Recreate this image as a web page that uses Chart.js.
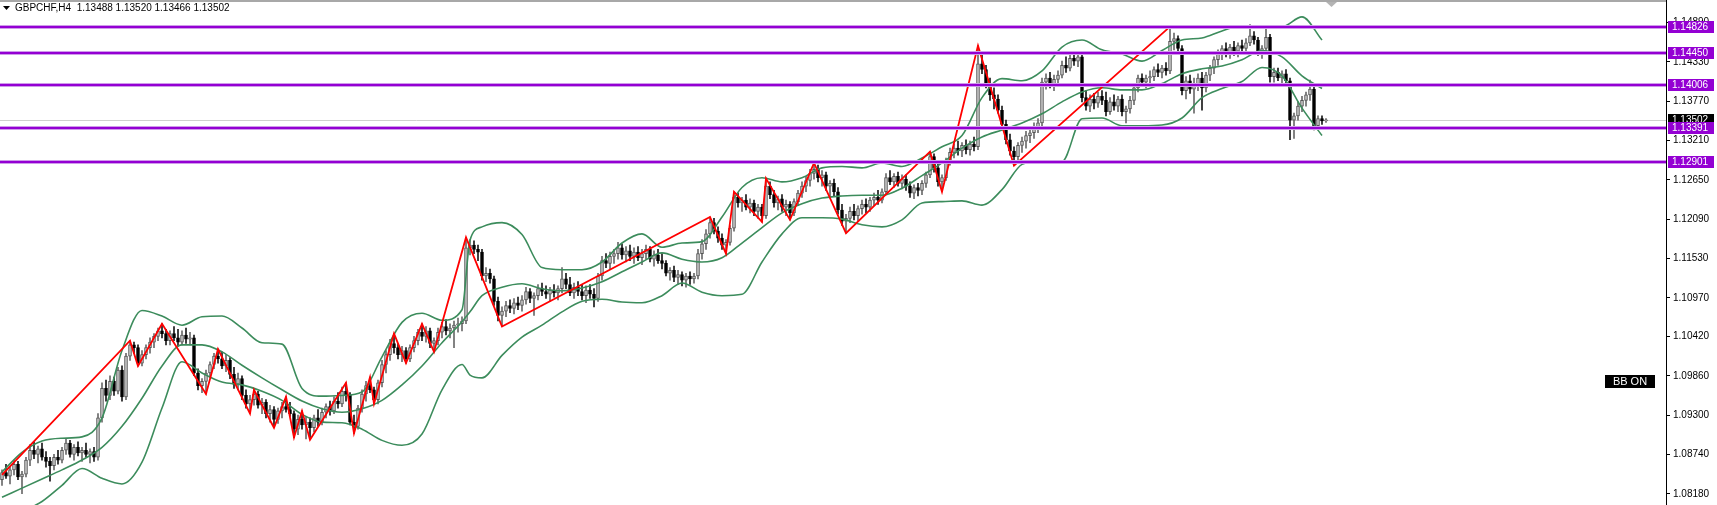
<!DOCTYPE html>
<html>
<head>
<meta charset="utf-8">
<title>GBPCHF,H4</title>
<script src="https://cdn.jsdelivr.net/npm/chart.js@4.4.1/dist/chart.umd.min.js"></script>
<style>
  html, body { margin: 0; padding: 0; background: #fff; }
  #wrap { width: 1717px; height: 505px; }
</style>
</head>
<body>
<div id="wrap"><canvas id="grafico" width="1717" height="505"></canvas></div>
<script>
// cabeçalho e eixo
const symbolTitle = 'GBPCHF,H4  1.13488 1.13520 1.13466 1.13502';
const priceTicks = [1.08180, 1.08740, 1.09300, 1.09860, 1.10420, 1.10970, 1.11530,
                    1.12090, 1.12650, 1.13210, 1.13770, 1.14330, 1.14890];
const levels = [1.14826, 1.14450, 1.14006, 1.13391, 1.12901];
const lastPrice = 1.13502;

// velas H4: [open, high, low, close]
const ohlc = [
  [1.0838,1.0852,1.0830,1.0848],[1.0848,1.0860,1.0840,1.0843],[1.0843,1.0857,1.0832,1.0852],[1.0852,1.0866,1.0845,1.0860],
  [1.0860,1.0864,1.0838,1.0842],[1.0842,1.0850,1.0818,1.0846],[1.0846,1.0870,1.0842,1.0866],[1.0866,1.0888,1.0858,1.0880],
  [1.0880,1.0892,1.0868,1.0874],[1.0874,1.0886,1.0862,1.0882],[1.0882,1.0890,1.0866,1.0870],[1.0870,1.0878,1.0856,1.0864],
  [1.0864,1.0870,1.0836,1.0858],[1.0858,1.0874,1.0852,1.0870],[1.0870,1.0880,1.0860,1.0866],[1.0866,1.0884,1.0862,1.0880],
  [1.0880,1.0896,1.0874,1.0890],[1.0890,1.0894,1.0870,1.0874],[1.0874,1.0888,1.0866,1.0884],[1.0884,1.0892,1.0872,1.0876],
  [1.0876,1.0884,1.0864,1.0880],[1.0880,1.0890,1.0870,1.0874],[1.0874,1.0882,1.0862,1.0878],[1.0878,1.0884,1.0864,1.0870],
  [1.0870,1.0932,1.0866,1.0926],[1.0926,1.0976,1.0920,1.0968],[1.0968,1.0980,1.0950,1.0958],[1.0958,1.0986,1.0952,1.0978],
  [1.0978,1.0984,1.0958,1.0964],[1.0964,1.0998,1.0960,1.0994],[1.0994,1.1000,1.0950,1.0956],[1.0956,1.1018,1.0952,1.1014],
  [1.1014,1.1036,1.1008,1.1030],[1.1030,1.1034,1.1018,1.1026],[1.1026,1.1030,1.1000,1.1004],[1.1004,1.1022,1.1000,1.1016],
  [1.1016,1.1030,1.1010,1.1026],[1.1026,1.1040,1.1018,1.1034],[1.1034,1.1046,1.1026,1.1042],[1.1042,1.1054,1.1036,1.1050],
  [1.1050,1.1060,1.1040,1.1046],[1.1046,1.1052,1.1030,1.1036],[1.1036,1.1050,1.1030,1.1046],[1.1046,1.1056,1.1036,1.1040],
  [1.1040,1.1052,1.1028,1.1034],[1.1034,1.1050,1.1030,1.1044],[1.1044,1.1054,1.1032,1.1038],[1.1038,1.1048,1.1030,1.1040],
  [1.1040,1.1044,1.0986,1.0990],[1.0990,1.0996,1.0966,1.0972],[1.0972,1.0982,1.0962,1.0978],[1.0978,1.0994,1.0960,1.0990],
  [1.0990,1.1006,1.0984,1.1002],[1.1002,1.1018,1.0996,1.1014],[1.1014,1.1024,1.1004,1.1010],[1.1010,1.1020,1.0996,1.1000],
  [1.1000,1.1016,1.0992,1.1008],[1.1008,1.1012,1.0982,1.0988],[1.0988,1.0998,1.0968,1.0974],[1.0974,1.0990,1.0966,1.0982],
  [1.0982,1.0986,1.0952,1.0958],[1.0958,1.0966,1.0940,1.0946],[1.0946,1.0958,1.0932,1.0952],[1.0952,1.0966,1.0944,1.0960],
  [1.0960,1.0964,1.0940,1.0944],[1.0944,1.0954,1.0932,1.0948],[1.0948,1.0952,1.0926,1.0932],[1.0932,1.0944,1.0920,1.0938],
  [1.0938,1.0942,1.0912,1.0924],[1.0924,1.0940,1.0918,1.0936],[1.0936,1.0948,1.0926,1.0942],[1.0942,1.0956,1.0934,1.0938],
  [1.0938,1.0948,1.0928,1.0932],[1.0932,1.0936,1.0898,1.0910],[1.0910,1.0930,1.0902,1.0924],[1.0924,1.0936,1.0910,1.0916],
  [1.0916,1.0928,1.0896,1.0920],[1.0920,1.0926,1.0895,1.0912],[1.0912,1.0930,1.0906,1.0926],[1.0926,1.0938,1.0914,1.0920],
  [1.0920,1.0940,1.0916,1.0934],[1.0934,1.0946,1.0926,1.0942],[1.0942,1.0950,1.0930,1.0936],[1.0936,1.0956,1.0932,1.0950],
  [1.0950,1.0962,1.0940,1.0946],[1.0946,1.0970,1.0942,1.0964],[1.0964,1.0976,1.0950,1.0958],[1.0958,1.0962,1.0916,1.0920],
  [1.0920,1.0930,1.0904,1.0914],[1.0914,1.0944,1.0910,1.0940],[1.0940,1.0966,1.0934,1.0960],[1.0960,1.0978,1.0950,1.0972],
  [1.0972,1.0984,1.0962,1.0966],[1.0966,1.0970,1.0946,1.0952],[1.0952,1.0980,1.0946,1.0976],[1.0976,1.1008,1.0970,1.1002],
  [1.1002,1.1022,1.0990,1.1016],[1.1016,1.1038,1.1008,1.1032],[1.1032,1.1046,1.1018,1.1026],[1.1026,1.1032,1.1010,1.1016],
  [1.1016,1.1028,1.1006,1.1022],[1.1022,1.1026,1.1004,1.1010],[1.1010,1.1030,1.1006,1.1026],[1.1026,1.1042,1.1020,1.1036],
  [1.1036,1.1052,1.1030,1.1048],[1.1048,1.1060,1.1036,1.1042],[1.1042,1.1056,1.1034,1.1050],[1.1050,1.1054,1.1026,1.1032],
  [1.1032,1.1040,1.1020,1.1036],[1.1036,1.1054,1.1030,1.1048],[1.1048,1.1062,1.1040,1.1056],[1.1056,1.1066,1.1044,1.1050],
  [1.1050,1.1060,1.1040,1.1054],[1.1054,1.1064,1.1026,1.1058],[1.1058,1.1068,1.1048,1.1060],[1.1060,1.1070,1.1050,1.1064],
  [1.1064,1.1183,1.1060,1.1168],[1.1168,1.1180,1.1158,1.1172],[1.1172,1.1178,1.1160,1.1166],[1.1166,1.1172,1.1150,1.1162],
  [1.1162,1.1166,1.1122,1.1128],[1.1128,1.1140,1.1120,1.1132],[1.1132,1.1138,1.1118,1.1124],[1.1124,1.1128,1.1086,1.1092],
  [1.1092,1.1098,1.1064,1.1072],[1.1072,1.1084,1.1056,1.1078],[1.1078,1.1092,1.1070,1.1086],[1.1086,1.1094,1.1076,1.1082],
  [1.1082,1.1096,1.1074,1.1090],[1.1090,1.1098,1.1080,1.1086],[1.1086,1.1100,1.1078,1.1094],[1.1094,1.1112,1.1088,1.1106],
  [1.1106,1.1110,1.1090,1.1096],[1.1096,1.1104,1.1072,1.1100],[1.1100,1.1116,1.1094,1.1110],[1.1110,1.1118,1.1100,1.1106],
  [1.1106,1.1114,1.1096,1.1102],[1.1102,1.1112,1.1092,1.1108],[1.1108,1.1116,1.1098,1.1104],[1.1104,1.1114,1.1094,1.1110],
  [1.1110,1.1140,1.1104,1.1124],[1.1124,1.1132,1.1110,1.1116],[1.1116,1.1126,1.1100,1.1104],[1.1104,1.1118,1.1096,1.1112],
  [1.1112,1.1120,1.1100,1.1106],[1.1106,1.1116,1.1094,1.1100],[1.1100,1.1114,1.1090,1.1108],[1.1108,1.1116,1.1096,1.1102],
  [1.1102,1.1110,1.1084,1.1096],[1.1096,1.1132,1.1092,1.1128],[1.1128,1.1156,1.1122,1.1150],[1.1150,1.1160,1.1140,1.1146],
  [1.1146,1.1162,1.1138,1.1156],[1.1156,1.1166,1.1146,1.1160],[1.1160,1.1176,1.1152,1.1168],[1.1168,1.1174,1.1152,1.1158],
  [1.1158,1.1170,1.1148,1.1164],[1.1164,1.1172,1.1150,1.1156],[1.1156,1.1168,1.1146,1.1162],[1.1162,1.1170,1.1150,1.1154],
  [1.1154,1.1166,1.1144,1.1160],[1.1160,1.1172,1.1152,1.1166],[1.1166,1.1170,1.1148,1.1152],[1.1152,1.1164,1.1142,1.1158],
  [1.1158,1.1166,1.1146,1.1150],[1.1150,1.1160,1.1138,1.1146],[1.1146,1.1150,1.1128,1.1132],[1.1132,1.1140,1.1122,1.1136],
  [1.1136,1.1142,1.1120,1.1126],[1.1126,1.1136,1.1116,1.1130],[1.1130,1.1134,1.1114,1.1122],[1.1122,1.1132,1.1112,1.1128],
  [1.1128,1.1134,1.1116,1.1124],[1.1124,1.1132,1.1118,1.1128],[1.1128,1.1166,1.1124,1.1160],[1.1160,1.1180,1.1152,1.1174],
  [1.1174,1.1194,1.1166,1.1188],[1.1188,1.1212,1.1182,1.1204],[1.1204,1.1210,1.1188,1.1192],[1.1192,1.1198,1.1176,1.1182],
  [1.1182,1.1188,1.1166,1.1172],[1.1172,1.1180,1.1160,1.1176],[1.1176,1.1200,1.1172,1.1196],[1.1196,1.1248,1.1192,1.1240],
  [1.1240,1.1246,1.1226,1.1232],[1.1232,1.1240,1.1220,1.1236],[1.1236,1.1244,1.1222,1.1226],[1.1226,1.1238,1.1218,1.1232],
  [1.1232,1.1236,1.1214,1.1220],[1.1220,1.1230,1.1210,1.1226],[1.1226,1.1230,1.1205,1.1214],[1.1214,1.1267,1.1210,1.1256],
  [1.1256,1.1262,1.1238,1.1244],[1.1244,1.1250,1.1226,1.1232],[1.1232,1.1242,1.1222,1.1238],[1.1238,1.1244,1.1220,1.1226],
  [1.1226,1.1236,1.1214,1.1230],[1.1230,1.1234,1.1208,1.1218],[1.1218,1.1238,1.1214,1.1234],[1.1234,1.1250,1.1228,1.1246],
  [1.1246,1.1262,1.1240,1.1256],[1.1256,1.1270,1.1248,1.1264],[1.1264,1.1280,1.1256,1.1274],[1.1274,1.1289,1.1266,1.1280],
  [1.1280,1.1286,1.1262,1.1268],[1.1268,1.1278,1.1256,1.1272],[1.1272,1.1276,1.1250,1.1256],[1.1256,1.1264,1.1240,1.1260],
  [1.1260,1.1266,1.1242,1.1248],[1.1248,1.1254,1.1216,1.1222],[1.1222,1.1230,1.1200,1.1206],[1.1206,1.1216,1.1189,1.1210],
  [1.1210,1.1226,1.1204,1.1220],[1.1220,1.1230,1.1208,1.1214],[1.1214,1.1228,1.1206,1.1224],[1.1224,1.1236,1.1216,1.1230],
  [1.1230,1.1238,1.1218,1.1226],[1.1226,1.1240,1.1220,1.1236],[1.1236,1.1246,1.1228,1.1240],[1.1240,1.1250,1.1230,1.1236],
  [1.1236,1.1252,1.1232,1.1248],[1.1248,1.1274,1.1244,1.1268],[1.1268,1.1278,1.1258,1.1262],[1.1262,1.1274,1.1254,1.1270],
  [1.1270,1.1276,1.1256,1.1260],[1.1260,1.1272,1.1252,1.1266],[1.1266,1.1272,1.1250,1.1256],[1.1256,1.1262,1.1240,1.1246],
  [1.1246,1.1258,1.1238,1.1254],[1.1254,1.1260,1.1242,1.1250],[1.1250,1.1264,1.1244,1.1260],[1.1260,1.1276,1.1254,1.1272],
  [1.1272,1.1305,1.1268,1.1298],[1.1298,1.1302,1.1276,1.1282],[1.1282,1.1288,1.1256,1.1262],[1.1262,1.1272,1.1248,1.1268],
  [1.1268,1.1296,1.1264,1.1292],[1.1292,1.1310,1.1286,1.1304],[1.1304,1.1316,1.1296,1.1310],[1.1310,1.1320,1.1300,1.1306],
  [1.1306,1.1318,1.1298,1.1314],[1.1314,1.1322,1.1302,1.1308],[1.1308,1.1320,1.1300,1.1316],[1.1316,1.1326,1.1306,1.1312],
  [1.1312,1.1456,1.1308,1.1430],[1.1430,1.1446,1.1416,1.1422],[1.1422,1.1428,1.1396,1.1402],[1.1402,1.1410,1.1378,1.1386],
  [1.1386,1.1396,1.1366,1.1380],[1.1380,1.1386,1.1360,1.1364],[1.1364,1.1370,1.1338,1.1344],[1.1344,1.1350,1.1316,1.1322],
  [1.1322,1.1330,1.1300,1.1306],[1.1306,1.1312,1.1285,1.1298],[1.1298,1.1318,1.1292,1.1314],[1.1314,1.1326,1.1304,1.1320],
  [1.1320,1.1334,1.1310,1.1328],[1.1328,1.1338,1.1318,1.1332],[1.1332,1.1346,1.1324,1.1340],[1.1340,1.1352,1.1332,1.1346],
  [1.1346,1.1410,1.1342,1.1404],[1.1404,1.1416,1.1394,1.1410],[1.1410,1.1418,1.1396,1.1402],[1.1402,1.1414,1.1392,1.1408],
  [1.1408,1.1420,1.1398,1.1414],[1.1414,1.1434,1.1410,1.1428],[1.1428,1.1440,1.1418,1.1424],[1.1424,1.1444,1.1420,1.1438],
  [1.1438,1.1448,1.1428,1.1434],[1.1434,1.1446,1.1426,1.1440],[1.1440,1.1444,1.1376,1.1382],[1.1382,1.1392,1.1364,1.1370],
  [1.1370,1.1386,1.1362,1.1380],[1.1380,1.1388,1.1366,1.1374],[1.1374,1.1390,1.1368,1.1384],[1.1384,1.1392,1.1372,1.1378],
  [1.1378,1.1390,1.1356,1.1362],[1.1362,1.1382,1.1358,1.1376],[1.1376,1.1386,1.1364,1.1370],[1.1370,1.1384,1.1362,1.1380],
  [1.1380,1.1386,1.1356,1.1362],[1.1362,1.1370,1.1346,1.1366],[1.1366,1.1384,1.1360,1.1378],[1.1378,1.1400,1.1372,1.1396],
  [1.1396,1.1414,1.1390,1.1410],[1.1410,1.1416,1.1398,1.1404],[1.1404,1.1414,1.1396,1.1410],[1.1410,1.1420,1.1400,1.1412],
  [1.1412,1.1426,1.1406,1.1422],[1.1422,1.1430,1.1412,1.1418],[1.1418,1.1428,1.1410,1.1424],[1.1424,1.1432,1.1414,1.1420],
  [1.1420,1.1483,1.1416,1.1462],[1.1462,1.1474,1.1450,1.1466],[1.1466,1.1470,1.1446,1.1452],[1.1452,1.1456,1.1386,1.1392],
  [1.1392,1.1412,1.1380,1.1406],[1.1406,1.1414,1.1388,1.1394],[1.1394,1.1410,1.1360,1.1400],[1.1400,1.1416,1.1392,1.1410],
  [1.1410,1.1418,1.1364,1.1396],[1.1396,1.1418,1.1390,1.1414],[1.1414,1.1428,1.1406,1.1424],[1.1424,1.1440,1.1416,1.1436],
  [1.1436,1.1450,1.1428,1.1444],[1.1444,1.1456,1.1436,1.1452],[1.1452,1.1460,1.1440,1.1446],[1.1446,1.1458,1.1438,1.1454],
  [1.1454,1.1462,1.1442,1.1448],[1.1448,1.1460,1.1440,1.1456],[1.1456,1.1464,1.1446,1.1452],[1.1452,1.1466,1.1446,1.1460],
  [1.1460,1.1486,1.1456,1.1470],[1.1470,1.1476,1.1458,1.1464],[1.1464,1.1468,1.1442,1.1448],[1.1448,1.1456,1.1438,1.1452],
  [1.1452,1.1484,1.1448,1.1468],[1.1468,1.1472,1.1404,1.1412],[1.1412,1.1424,1.1404,1.1418],[1.1418,1.1424,1.1406,1.1410],
  [1.1410,1.1420,1.1402,1.1416],[1.1416,1.1422,1.1400,1.1406],[1.1406,1.1410,1.1322,1.1350],[1.1350,1.1360,1.1324,1.1356],
  [1.1356,1.1376,1.1350,1.1370],[1.1370,1.1384,1.1362,1.1378],[1.1378,1.1390,1.1370,1.1386],[1.1386,1.1407,1.1378,1.1394],
  [1.1394,1.1398,1.1336,1.1342],[1.1342,1.1356,1.1336,1.1352],[1.1352,1.1356,1.1344,1.1349],[1.13488,1.13520,1.13466,1.13502]
];

// Bandas de Bollinger
const bbIdx = [0,5,10,15,20,25,30,35,40,45,50,55,60,65,70,75,80,85,90,95,100,105,110,115,117,
               120,125,130,135,140,145,150,155,160,165,170,175,180,185,190,195,200,205,210,215,
               220,225,230,235,240,245,250,255,260,265,270,275,280,285,290,295,300,305,310,315,320,325,330];
const bbUpper = [1.0849,1.0877,1.0893,1.0897,1.0899,1.0926,1.1022,1.1079,1.1071,1.1058,1.1070,1.1071,1.1054,1.1033,1.1031,
                 1.0968,1.0957,1.0958,1.0963,1.1013,1.1062,1.1075,1.1065,1.1080,1.1179,
                 1.1198,1.1204,1.1187,1.1140,1.1137,1.1137,1.1148,1.1175,1.1188,1.1169,1.1175,1.1177,1.1212,1.1254,1.1268,
                 1.1262,1.1268,1.1282,1.1284,1.1282,1.1289,1.1284,1.1296,1.1312,1.1328,1.1382,1.1409,1.1406,1.1420,1.1454,
                 1.1464,1.1450,1.1444,1.1434,1.1449,1.1464,1.1467,1.1477,1.1484,1.1483,1.1483,1.1497,1.1464];
const bbMiddle = [1.0813,1.0826,1.0839,1.0852,1.0866,1.0884,1.0914,1.0954,1.1000,1.1030,1.1030,1.1020,1.1001,1.0983,1.0966,
                  1.0950,1.0939,1.0934,1.0939,1.0951,1.0973,1.1000,1.1033,1.1063,1.1077,
                  1.1100,1.1112,1.1117,1.1110,1.1107,1.1111,1.1120,1.1134,1.1148,1.1161,1.1152,1.1148,1.1154,1.1175,1.1197,
                  1.1218,1.1231,1.1239,1.1242,1.1243,1.1243,1.1253,1.1271,1.1289,1.1310,1.1326,1.1336,1.1346,1.1359,1.1376,
                  1.1390,1.1396,1.1393,1.1393,1.1402,1.1416,1.1423,1.1427,1.1436,1.1449,1.1440,1.1413,1.1395];
const bbLower = [1.0773,1.0792,1.0807,1.0830,1.0854,1.0840,1.0832,1.0863,1.0940,1.1006,1.0990,1.0977,1.0973,1.0964,1.0951,
                 1.0931,1.0920,1.0919,1.0910,1.0894,1.0887,1.0903,1.0966,1.1002,1.0987,
                 1.0983,1.1015,1.1041,1.1058,1.1077,1.1092,1.1095,1.1091,1.1090,1.1100,1.1118,1.1105,1.1100,1.1102,1.1148,
                 1.1188,1.1211,1.1211,1.1209,1.1201,1.1198,1.1208,1.1232,1.1234,1.1235,1.1229,1.1251,1.1287,1.1292,1.1291,
                 1.1352,1.1353,1.1342,1.1342,1.1343,1.1353,1.1382,1.1395,1.1405,1.1425,1.1413,1.1367,1.1328];

// ZigZag (pivôs)
const zzIdx = [0,32,34,40,51,54,62,63,68,71,73,75,77,86,88,92,93,98,101,105,108,116,125,
               177,181,183,190,191,197,203,211,232,235,244,253,292];
const zzPrice = [1.0845,1.1036,1.1000,1.1060,1.0960,1.1024,1.0932,1.0966,1.0912,1.0956,1.0898,1.0936,1.0895,
                 1.0976,1.0904,1.0984,1.0946,1.1046,1.1004,1.1060,1.1020,1.1183,1.1056,
                 1.1212,1.1160,1.1248,1.1205,1.1267,1.1208,1.1289,1.1189,1.1305,1.1248,1.1456,1.1285,1.1483];

const isBull = i => ohlc[i][3] >= ohlc[i][0];
const wicks = ohlc.map((c, i) => ({ x: i, y: [c[2], c[1]] }));
const bodies = ohlc.map((c, i) => ({ x: i, y: [c[0], c[3]] }));
const bbLine = arr => bbIdx.map((x, k) => ({ x: x, y: arr[k] }));

const mt4Plugin = {
  id: 'mt4',
  beforeDatasetsDraw(chart) {
    const { ctx, chartArea, scales } = chart;
    const py = Math.round(scales.y.getPixelForValue(lastPrice)) + 0.5;
    ctx.save();
    ctx.strokeStyle = '#cfcfcf';
    ctx.lineWidth = 1;
    ctx.beginPath();
    ctx.moveTo(chartArea.left, py);
    ctx.lineTo(chartArea.right, py);
    ctx.stroke();
    ctx.restore();
  },
  afterDatasetsDraw(chart) {
    const { ctx, chartArea, scales } = chart;
    ctx.save();
    levels.forEach(v => {
      const py = Math.round(scales.y.getPixelForValue(v));
      ctx.fillStyle = '#cf9bea';
      ctx.fillRect(chartArea.left, py - 2, chartArea.right - chartArea.left, 4);
      ctx.fillStyle = '#9400d3';
      ctx.fillRect(chartArea.left, py - 1, chartArea.right - chartArea.left, 2);
    });
    ctx.restore();
  },
  afterDraw(chart) {
    const { ctx, chartArea, scales } = chart;
    const bx = chartArea.right + 2;
    ctx.save();
    ctx.font = '10px "Liberation Sans", Arial, sans-serif';
    ctx.textBaseline = 'middle';
    ctx.textAlign = 'left';

    // preço atual (caixa preta)
    let py = Math.round(scales.y.getPixelForValue(lastPrice));
    ctx.fillStyle = '#000';
    ctx.fillRect(bx, py - 6, 46, 12);
    ctx.fillStyle = '#fff';
    ctx.fillText(lastPrice.toFixed(5), bx + 4, py);

    // rótulos das linhas horizontais
    levels.forEach(v => {
      py = Math.round(scales.y.getPixelForValue(v));
      ctx.fillStyle = '#9400d3';
      ctx.fillRect(bx, py - 6, 46, 12);
      ctx.fillStyle = '#fff';
      ctx.fillText(v.toFixed(5), bx + 4, py);
    });

    // borda superior e marcador de deslocamento
    ctx.fillStyle = '#a8a8a8';
    ctx.fillRect(0, 0, chartArea.right, 2);
    ctx.fillStyle = '#b4b4b4';
    ctx.beginPath();
    ctx.moveTo(1326, 2); ctx.lineTo(1337, 2); ctx.lineTo(1331.5, 7);
    ctx.closePath(); ctx.fill();

    // cabeçalho
    ctx.fillStyle = '#000';
    ctx.beginPath();
    ctx.moveTo(3, 6); ctx.lineTo(10, 6); ctx.lineTo(6.5, 10);
    ctx.closePath(); ctx.fill();
    ctx.font = '10px "Liberation Sans", Arial, sans-serif';
    ctx.fillText(symbolTitle, 15, 8);

    // BB ON
    ctx.fillStyle = '#000';
    ctx.fillRect(1605, 375, 50, 13);
    ctx.fillStyle = '#fff';
    ctx.textAlign = 'center';
    ctx.font = '11px "Liberation Sans", Arial, sans-serif';
    ctx.fillText('BB ON', 1630, 382);
    ctx.restore();
  }
};

new Chart(document.getElementById('grafico'), {
  type: 'bar',
  data: {
    datasets: [
      {
        label: 'Sombras',
        data: wicks,
        backgroundColor: ctx => isBull(ctx.dataIndex) ? '#6a6a6a' : '#1a1a1a',
        barThickness: 1,
        grouped: false,
        order: 5
      },
      {
        label: 'Corpos',
        data: bodies,
        backgroundColor: ctx => isBull(ctx.dataIndex) ? '#c4c4c4' : '#000',
        borderColor: ctx => isBull(ctx.dataIndex) ? '#555' : '#000',
        borderWidth: 1,
        borderSkipped: false,
        barThickness: 3,
        minBarLength: 1,
        grouped: false,
        order: 4
      },
      { type: 'line', label: 'BB sup', data: bbLine(bbUpper), borderColor: '#3c8c5c', borderWidth: 1.6,
        pointRadius: 0, cubicInterpolationMode: 'monotone', order: 2 },
      { type: 'line', label: 'BB med', data: bbLine(bbMiddle), borderColor: '#3c8c5c', borderWidth: 1.6,
        pointRadius: 0, cubicInterpolationMode: 'monotone', order: 2 },
      { type: 'line', label: 'BB inf', data: bbLine(bbLower), borderColor: '#3c8c5c', borderWidth: 1.6,
        pointRadius: 0, cubicInterpolationMode: 'monotone', order: 2 },
      { type: 'line', label: 'ZigZag', data: zzIdx.map((x, k) => ({ x: x, y: zzPrice[k] })),
        borderColor: '#ff0000', borderWidth: 1.8, pointRadius: 0, tension: 0, order: 1 }
    ]
  },
  options: {
    responsive: false,
    animation: false,
    devicePixelRatio: 1,
    layout: { padding: 0 },
    plugins: { legend: { display: false }, tooltip: { enabled: false } },
    scales: {
      x: { type: 'linear', min: -0.5, max: 416, display: false, offset: false },
      y: {
        position: 'right',
        min: 1.0802,
        max: 1.1521,
        afterBuildTicks: s => { s.ticks = priceTicks.map(v => ({ value: v })); },
        afterFit: s => { s.width = 51; s.paddingTop = 0; s.paddingBottom = 0; },
        ticks: {
          callback: v => Number(v).toFixed(5),
          font: { family: '"Liberation Sans", Arial, sans-serif', size: 10 },
          color: '#000',
          padding: 3,
          autoSkip: false
        },
        grid: { drawOnChartArea: false, drawTicks: true, tickLength: 4, color: '#000' },
        border: { display: true, color: '#000', width: 1 }
      }
    }
  },
  plugins: [mt4Plugin]
});
</script>
</body>
</html>
